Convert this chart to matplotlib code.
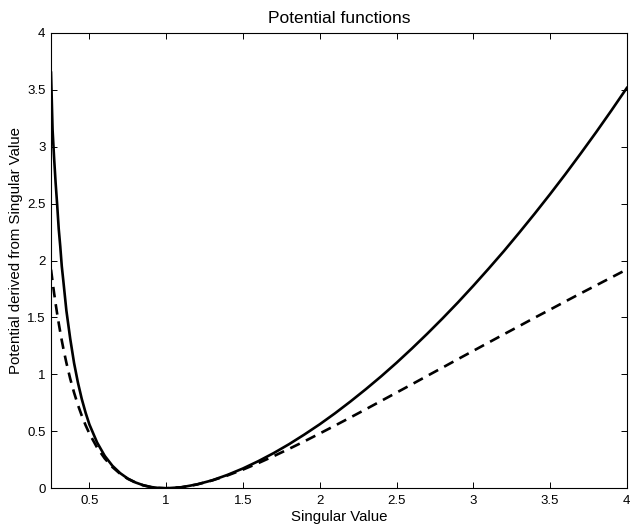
import numpy as np
import matplotlib
matplotlib.use("Agg")
import matplotlib.pyplot as plt

# values
singular_value = [0.25, 0.26, 0.27, 0.28, 0.29, 0.30, 0.31, 0.32, 0.33, 0.35,
                  0.375, 0.40, 0.425, 0.45, 0.475, 0.50,
                  0.55, 0.60, 0.65, 0.70, 0.75, 0.80, 0.85, 0.90, 0.95, 1.00,
                  1.1, 1.2, 1.3, 1.4, 1.5, 1.6, 1.7, 1.8, 1.9, 2.0,
                  2.1, 2.2, 2.3, 2.4, 2.5, 2.6, 2.7, 2.8, 2.9, 3.0,
                  3.1, 3.2, 3.3, 3.4, 3.5, 3.6, 3.7, 3.8, 3.9, 4.0]

potential_solid = [3.65, 3.15, 2.90, 2.68, 2.49, 2.28, 2.126, 1.95, 1.823, 1.56,
                   1.313, 1.10, 0.929, 0.785, 0.664, 0.56,
                   0.402, 0.284, 0.197, 0.133, 0.085, 0.051, 0.027, 0.011, 0.003, 0.0,
                   0.009, 0.034, 0.070, 0.118, 0.174, 0.238, 0.309, 0.387, 0.472, 0.562,
                   0.659, 0.762, 0.870, 0.983, 1.102, 1.227, 1.357, 1.492, 1.632, 1.778,
                   1.929, 2.084, 2.246, 2.412, 2.583, 2.759, 2.941, 3.127, 3.319, 3.516]

potential_dashed = [1.92, 1.815, 1.714, 1.620, 1.532, 1.450, 1.372, 1.298, 1.229, 1.102,
                    0.962, 0.840, 0.732, 0.638, 0.554, 0.480,
                    0.357, 0.261, 0.186, 0.127, 0.083, 0.050, 0.026, 0.011, 0.003, 0.0,
                    0.009, 0.033, 0.069, 0.113, 0.164, 0.221, 0.282, 0.346, 0.412, 0.481,
                    0.551, 0.622, 0.694, 0.767, 0.840, 0.913, 0.987, 1.060, 1.134, 1.207,
                    1.280, 1.353, 1.425, 1.498, 1.569, 1.641, 1.712, 1.782, 1.852, 1.922]

xticks = [0.5, 1, 1.5, 2, 2.5, 3, 3.5, 4]
xtick_labels = ["0.5", "1", "1.5", "2", "2.5", "3", "3.5", "4"]
yticks = [0, 0.5, 1, 1.5, 2, 2.5, 3, 3.5, 4]
ytick_labels = ["0", "0.5", "1", "1.5", "2", "2.5", "3", "3.5", "4"]

plt.rcParams['font.family'] = ['Liberation Sans', 'DejaVu Sans']

fig = plt.figure(figsize=(6.3, 5.29), dpi=100)
ax = fig.add_axes([0.081, 0.077, 0.914, 0.861])

ax.plot(singular_value, potential_solid, color="black", linewidth=1.9, linestyle="-")
ax.plot(singular_value, potential_dashed, color="black", linewidth=1.9,
        linestyle=(0, (4, 2.6)))

ax.set_xlim(0.25, 4)
ax.set_ylim(0, 4)
ax.set_xticks(xticks)
ax.set_xticklabels(xtick_labels)
ax.set_yticks(yticks)
ax.set_yticklabels(ytick_labels)

ax.tick_params(direction="in", length=4, width=0.7, top=True, right=True,
               labelsize=9.5, colors="black")
ax.tick_params(axis="x", pad=5)
ax.tick_params(axis="y", pad=4)
for sp in ax.spines.values():
    sp.set_linewidth(0.8)
    sp.set_color("black")

ax.set_title("Potential functions", fontsize=12.5, pad=7)
ax.set_xlabel("Singular Value", fontsize=10.8, labelpad=2)
ax.set_ylabel("Potential derived from Singular Value", fontsize=10.8)
ax.yaxis.set_label_coords(-0.049, 0.523)

fig.savefig("out.png", dpi=100)
